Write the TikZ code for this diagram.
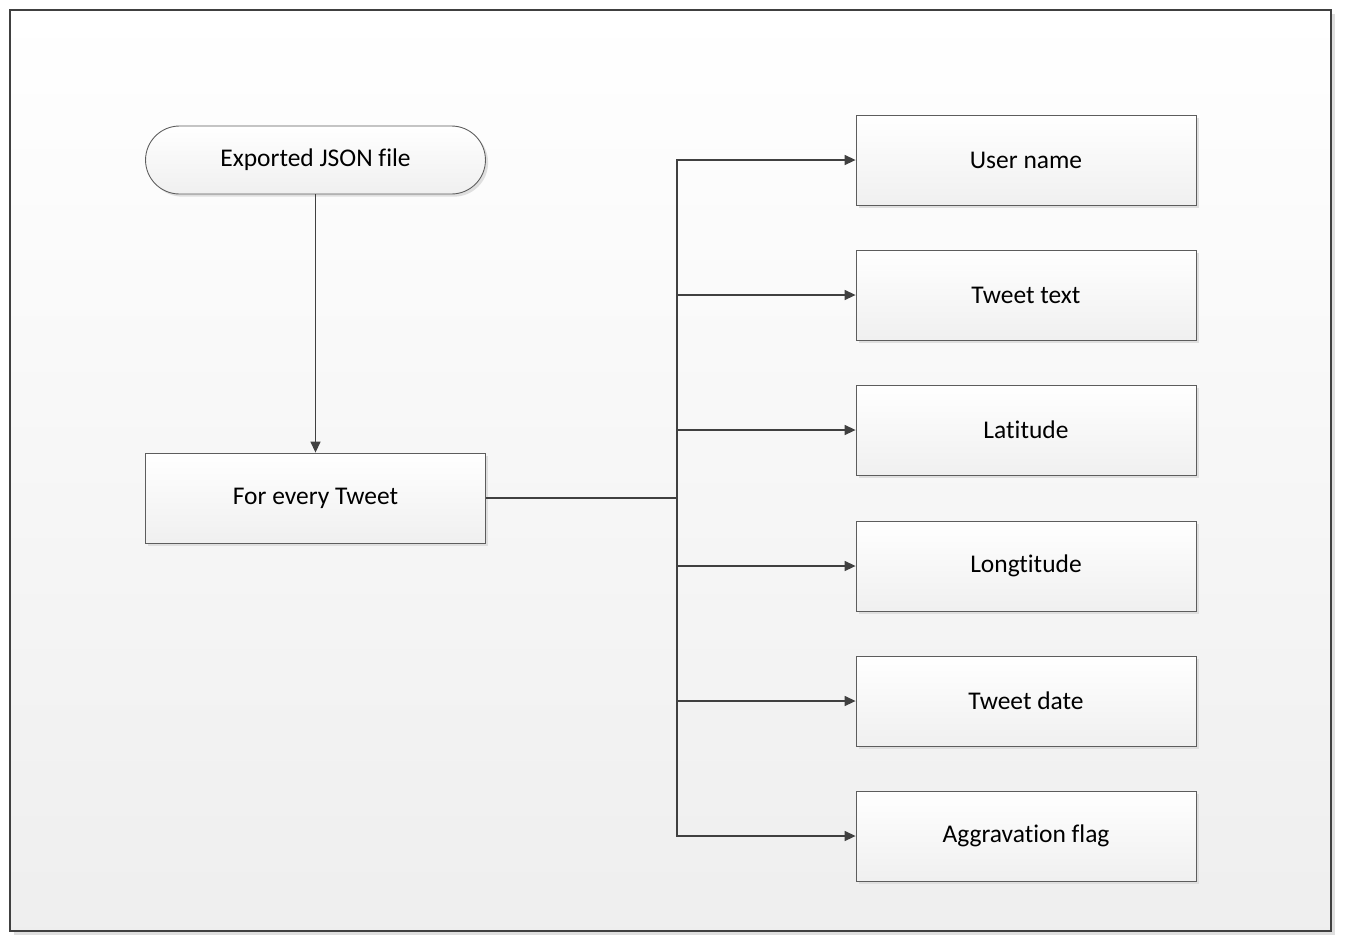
\documentclass[tikz,border=0pt]{standalone}
\usepackage{fontspec}
\setmainfont[Ligatures=NoCommon]{Carlito}
\usetikzlibrary{arrows.meta,shadows}
\definecolor{linegray}{HTML}{404040}
\begin{document}
\begin{tikzpicture}[
  x=0.02cm, y=-0.02cm,
  frame/.style={draw=linegray, line width=0.8pt, top color=white, bottom color=gray!13,
    drop shadow={shadow xshift=2pt, shadow yshift=-2pt, fill=gray!25, opacity=1}},
  box/.style={draw=linegray!85, line width=0.5pt, top color=white, bottom color=gray!12,
    minimum width=6.8cm, minimum height=1.8cm, font=\fontsize{14.5}{16}\selectfont,
    drop shadow={shadow xshift=1.5pt, shadow yshift=-1.5pt, fill=gray!25, opacity=1}},
  terminal/.style={box, rounded corners=0.68cm, minimum height=1.36cm},
  link/.style={draw=linegray, line width=0.8pt},
  arrow/.style={link, -{Triangle[length=2.2mm, width=2mm]}}
]
  \useasboundingbox (0,0) rectangle (1346,948);
  \fill[frame] (10,10) rectangle (1331,931);

  \node[terminal] (json) at (315.5,160) {Exported JSON file};
  \node[box] (tweet) at (315.5,498) {For every Tweet};

  \node[box] (user) at (1026,160) {User name};
  \node[box] (text) at (1026,295) {Tweet text};
  \node[box] (lat)  at (1026,430) {Latitude};
  \node[box] (lon)  at (1026,566) {Longtitude};
  \node[box] (date) at (1026,701) {Tweet date};
  \node[box] (flag) at (1026,836) {Aggravation flag};

  \coordinate (split) at (677,498);

  \draw[arrow] (json) -- (tweet);
  \draw[link] (tweet) -- (split);
  \draw[arrow] (split) |- (user);
  \draw[arrow] (split |- text) -- (text);
  \draw[arrow] (split |- lat) -- (lat);
  \draw[arrow] (split |- lon) -- (lon);
  \draw[arrow] (split |- date) -- (date);
  \draw[arrow] (split) |- (flag);
\end{tikzpicture}
\end{document}
